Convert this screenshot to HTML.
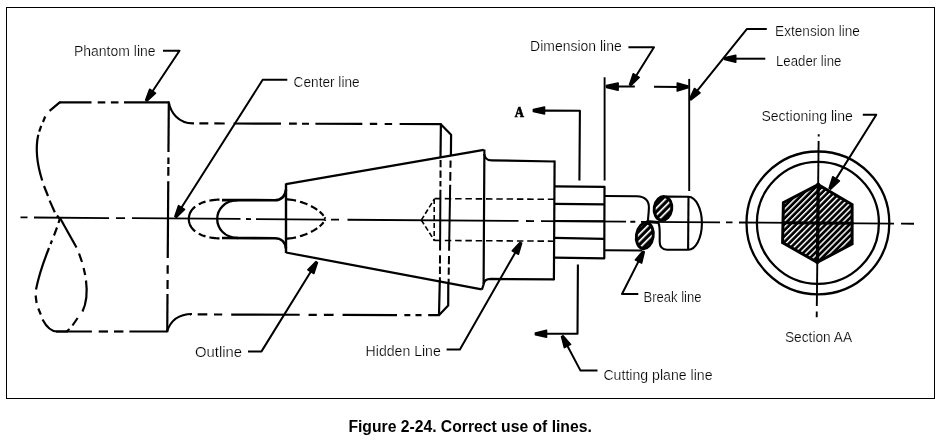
<!DOCTYPE html>
<html><head><meta charset="utf-8"><title>Figure 2-24. Correct use of lines.</title>
<style>
html,body{margin:0;padding:0;background:#fff;}
body{width:940px;height:444px;overflow:hidden;font-family:"Liberation Sans",sans-serif;}
svg{display:block;will-change:transform;}
</style></head><body>
<svg width="940" height="444" viewBox="0 0 940 444">
<defs>
<pattern id="hat" patternUnits="userSpaceOnUse" width="4.2" height="4.2" patternTransform="rotate(-45 817.8 223)">
<rect x="0" y="0" width="4.2" height="4.2" fill="#000"/><rect x="0" y="0" width="4.2" height="1.45" fill="#fff"/></pattern>
<pattern id="hat2" patternUnits="userSpaceOnUse" width="4.9" height="4.9" patternTransform="rotate(-54 644.8 235.7) translate(0 4.550)">
<rect x="0" y="0" width="4.9" height="4.9" fill="#000"/><rect x="0" y="0" width="4.9" height="1.7" fill="#fff"/></pattern>
<pattern id="hat3" patternUnits="userSpaceOnUse" width="4.9" height="4.9" patternTransform="rotate(-54 663 208.4) translate(0 1.750)">
<rect x="0" y="0" width="4.9" height="4.9" fill="#000"/><rect x="0" y="0" width="4.9" height="1.7" fill="#fff"/></pattern>
</defs>
<rect x="6.5" y="7.5" width="928" height="391" fill="none" stroke="#000" stroke-width="1"/>
<line x1="20.5" y1="217.4" x2="27.5" y2="217.45" stroke="#000" stroke-width="1.8" stroke-linecap="butt"/>
<line x1="34" y1="217.5" x2="109" y2="218.03" stroke="#000" stroke-width="1.8" stroke-linecap="butt"/>
<line x1="116" y1="218.08" x2="125" y2="218.15" stroke="#000" stroke-width="1.8" stroke-linecap="butt"/>
<line x1="132" y1="218.2" x2="240.5" y2="218.97" stroke="#000" stroke-width="1.8" stroke-linecap="butt"/>
<line x1="246" y1="219.0" x2="251" y2="219.04" stroke="#000" stroke-width="1.8" stroke-linecap="butt"/>
<line x1="256" y1="219.08" x2="325" y2="219.57" stroke="#000" stroke-width="1.8" stroke-linecap="butt"/>
<line x1="331" y1="219.61" x2="339" y2="219.66" stroke="#000" stroke-width="1.8" stroke-linecap="butt"/>
<line x1="347.5" y1="219.73" x2="518.5" y2="220.94" stroke="#000" stroke-width="1.8" stroke-linecap="butt"/>
<line x1="526" y1="220.99" x2="534" y2="221.05" stroke="#000" stroke-width="1.8" stroke-linecap="butt"/>
<line x1="541" y1="221.1" x2="626" y2="221.7" stroke="#000" stroke-width="1.8" stroke-linecap="butt"/>
<line x1="630.3" y1="221.73" x2="635.3" y2="221.77" stroke="#000" stroke-width="1.8" stroke-linecap="butt"/>
<line x1="641" y1="221.81" x2="720" y2="222.37" stroke="#000" stroke-width="1.8" stroke-linecap="butt"/>
<line x1="726" y1="222.41" x2="732.5" y2="222.46" stroke="#000" stroke-width="1.8" stroke-linecap="butt"/>
<line x1="739" y1="222.5" x2="894" y2="223.61" stroke="#000" stroke-width="1.8" stroke-linecap="butt"/>
<line x1="901" y1="223.66" x2="914" y2="223.75" stroke="#000" stroke-width="1.8" stroke-linecap="butt"/>
<line x1="59.7" y1="102.4" x2="91.5" y2="102.4" stroke="#000" stroke-width="2.2" stroke-linecap="butt"/>
<line x1="97.7" y1="102.4" x2="105.3" y2="102.4" stroke="#000" stroke-width="2.2" stroke-linecap="butt"/>
<line x1="110.9" y1="102.4" x2="118.5" y2="102.4" stroke="#000" stroke-width="2.2" stroke-linecap="butt"/>
<line x1="124" y1="102.4" x2="169" y2="102.4" stroke="#000" stroke-width="2.2" stroke-linecap="butt"/>
<line x1="56" y1="331.5" x2="91.9" y2="331.5" stroke="#000" stroke-width="2.2" stroke-linecap="butt"/>
<line x1="98.7" y1="331.5" x2="108" y2="331.5" stroke="#000" stroke-width="2.2" stroke-linecap="butt"/>
<line x1="114" y1="331.5" x2="123.4" y2="331.5" stroke="#000" stroke-width="2.2" stroke-linecap="butt"/>
<line x1="129.4" y1="331.5" x2="167.3" y2="331.5" stroke="#000" stroke-width="2.2" stroke-linecap="butt"/>
<line x1="168.81" y1="101.5" x2="168.46" y2="152" stroke="#000" stroke-width="2.2" stroke-linecap="butt"/>
<line x1="168.42" y1="157.6" x2="168.38" y2="163.9" stroke="#000" stroke-width="2.2" stroke-linecap="butt"/>
<line x1="168.36" y1="167" x2="168.3" y2="175.7" stroke="#000" stroke-width="2.2" stroke-linecap="butt"/>
<line x1="168.26" y1="181.2" x2="167.74" y2="258" stroke="#000" stroke-width="2.2" stroke-linecap="butt"/>
<line x1="167.69" y1="265.2" x2="167.63" y2="273.8" stroke="#000" stroke-width="2.2" stroke-linecap="butt"/>
<line x1="167.59" y1="280" x2="167.53" y2="289" stroke="#000" stroke-width="2.2" stroke-linecap="butt"/>
<line x1="167.5" y1="294" x2="167.24" y2="332.3" stroke="#000" stroke-width="2.2" stroke-linecap="butt"/>
<path d="M168.8,102.4 C170.5,112 178,123.2 193,123.3 " fill="none" stroke="#000" stroke-width="2.2" stroke-linecap="butt" stroke-linejoin="round"/>
<path d="M167.0,331.6 C170,322 177,314.2 192,314.0" fill="none" stroke="#000" stroke-width="2.2" stroke-linecap="butt" stroke-linejoin="round"/>
<line x1="193" y1="123.4" x2="194" y2="123.4" stroke="#000" stroke-width="2.2" stroke-linecap="butt"/>
<line x1="199.4" y1="123.42" x2="208.3" y2="123.45" stroke="#000" stroke-width="2.2" stroke-linecap="butt"/>
<line x1="214.3" y1="123.46" x2="224.7" y2="123.5" stroke="#000" stroke-width="2.2" stroke-linecap="butt"/>
<line x1="233.6" y1="123.52" x2="281" y2="123.66" stroke="#000" stroke-width="2.2" stroke-linecap="butt"/>
<line x1="289" y1="123.69" x2="296.8" y2="123.71" stroke="#000" stroke-width="2.2" stroke-linecap="butt"/>
<line x1="302" y1="123.73" x2="309" y2="123.75" stroke="#000" stroke-width="2.2" stroke-linecap="butt"/>
<line x1="315.4" y1="123.77" x2="362.3" y2="123.91" stroke="#000" stroke-width="2.2" stroke-linecap="butt"/>
<line x1="369.8" y1="123.93" x2="377.2" y2="123.95" stroke="#000" stroke-width="2.2" stroke-linecap="butt"/>
<line x1="384.7" y1="123.98" x2="392.1" y2="124.0" stroke="#000" stroke-width="2.2" stroke-linecap="butt"/>
<line x1="399.6" y1="124.02" x2="441.3" y2="124.14" stroke="#000" stroke-width="2.2" stroke-linecap="butt"/>
<line x1="190" y1="314.4" x2="191" y2="314.4" stroke="#000" stroke-width="2.2" stroke-linecap="butt"/>
<line x1="197.7" y1="314.43" x2="207.3" y2="314.46" stroke="#000" stroke-width="2.2" stroke-linecap="butt"/>
<line x1="214" y1="314.48" x2="222.2" y2="314.51" stroke="#000" stroke-width="2.2" stroke-linecap="butt"/>
<line x1="231.2" y1="314.54" x2="299.7" y2="314.76" stroke="#000" stroke-width="2.2" stroke-linecap="butt"/>
<line x1="308.6" y1="314.79" x2="316.8" y2="314.82" stroke="#000" stroke-width="2.2" stroke-linecap="butt"/>
<line x1="323.9" y1="314.84" x2="333.6" y2="314.87" stroke="#000" stroke-width="2.2" stroke-linecap="butt"/>
<line x1="342.6" y1="314.9" x2="397" y2="315.08" stroke="#000" stroke-width="2.2" stroke-linecap="butt"/>
<line x1="404.4" y1="315.11" x2="410.3" y2="315.13" stroke="#000" stroke-width="2.2" stroke-linecap="butt"/>
<line x1="415.5" y1="315.14" x2="421.5" y2="315.16" stroke="#000" stroke-width="2.2" stroke-linecap="butt"/>
<line x1="428.2" y1="315.19" x2="439.6" y2="315.22" stroke="#000" stroke-width="2.2" stroke-linecap="butt"/>
<path d="M60.5,102.4 L59.7,102.4 L49.6,110.8" fill="none" stroke="#000" stroke-width="2.2" stroke-linecap="butt" stroke-linejoin="round"/>
<path d="M45.2,116.5 L43,122" fill="none" stroke="#000" stroke-width="2.2" stroke-linecap="butt" stroke-linejoin="round"/>
<path d="M41.2,125.8 L39.2,131.7" fill="none" stroke="#000" stroke-width="2.2" stroke-linecap="butt" stroke-linejoin="round"/>
<path d="M38.3,134.8 C34.8,150 37.3,165 42.2,180.5" fill="none" stroke="#000" stroke-width="2.2" stroke-linecap="butt" stroke-linejoin="round"/>
<path d="M44,186 L48,196" fill="none" stroke="#000" stroke-width="2.2" stroke-linecap="butt" stroke-linejoin="round"/>
<path d="M49.6,200.6 L54.8,212.3" fill="none" stroke="#000" stroke-width="2.2" stroke-linecap="butt" stroke-linejoin="round"/>
<path d="M57,215.5 L59.5,218.5" fill="none" stroke="#000" stroke-width="2.2" stroke-linecap="butt" stroke-linejoin="round"/>
<path d="M60,218 L58.5,223" fill="none" stroke="#000" stroke-width="2.2" stroke-linecap="butt" stroke-linejoin="round"/>
<path d="M57,227.5 L54,235.5" fill="none" stroke="#000" stroke-width="2.2" stroke-linecap="butt" stroke-linejoin="round"/>
<path d="M52,240.5 L50.6,244" fill="none" stroke="#000" stroke-width="2.2" stroke-linecap="butt" stroke-linejoin="round"/>
<path d="M49,248 C43,263 38.5,277 36,289.5" fill="none" stroke="#000" stroke-width="2.2" stroke-linecap="butt" stroke-linejoin="round"/>
<path d="M35.6,295.5 L36.6,303" fill="none" stroke="#000" stroke-width="2.2" stroke-linecap="butt" stroke-linejoin="round"/>
<path d="M38.3,308.5 L40.8,314.5" fill="none" stroke="#000" stroke-width="2.2" stroke-linecap="butt" stroke-linejoin="round"/>
<path d="M42.5,319.5 C46,326 50,331.5 57,331.5 L68,331.5" fill="none" stroke="#000" stroke-width="2.2" stroke-linecap="butt" stroke-linejoin="round"/>
<path d="M60,218 L76.5,247.5" fill="none" stroke="#000" stroke-width="2.2" stroke-linecap="butt" stroke-linejoin="round"/>
<path d="M79,253.5 L82,262" fill="none" stroke="#000" stroke-width="2.2" stroke-linecap="butt" stroke-linejoin="round"/>
<path d="M83.6,268 L85.2,275" fill="none" stroke="#000" stroke-width="2.2" stroke-linecap="butt" stroke-linejoin="round"/>
<path d="M86,280.5 C87.5,292 86.5,303 82.5,311.5" fill="none" stroke="#000" stroke-width="2.2" stroke-linecap="butt" stroke-linejoin="round"/>
<path d="M77.6,318 L72.5,325.5" fill="none" stroke="#000" stroke-width="2.2" stroke-linecap="butt" stroke-linejoin="round"/>
<path d="M69.5,329 L66.5,331.5" fill="none" stroke="#000" stroke-width="2.2" stroke-linecap="butt" stroke-linejoin="round"/>
<path d="M195.20,206.64 L194.06,207.61 L193.03,208.63 L192.09,209.72 L191.26,210.86 L190.55,212.07 L189.95,213.34 L189.47,214.66 L189.12,216.05 L188.89,217.49 L188.80,219.00" fill="none" stroke="#000" stroke-width="2.2" stroke-linecap="butt" stroke-linejoin="round"/>
<path d="M205.50,201.63 L204.77,201.85 L204.06,202.08 L203.36,202.32 L202.66,202.57 L201.99,202.83 L201.32,203.11 L200.67,203.39 L200.03,203.69 L199.41,203.99 L198.80,204.31" fill="none" stroke="#000" stroke-width="2.2" stroke-linecap="butt" stroke-linejoin="round"/>
<path d="M219.50,199.62 L218.44,199.65 L217.39,199.70 L216.35,199.77 L215.33,199.85 L214.31,199.95 L213.30,200.07 L212.31,200.20 L211.32,200.34 L210.36,200.51 L209.40,200.69" fill="none" stroke="#000" stroke-width="2.2" stroke-linecap="butt" stroke-linejoin="round"/>
<path d="M286.30,199.40 L287.20,199.42 L288.12,199.46 L289.06,199.53 L290.02,199.62 L290.98,199.74 L291.97,199.87 L292.96,200.03 L293.97,200.22 L294.98,200.42 L296.00,200.64" fill="none" stroke="#000" stroke-width="2.2" stroke-linecap="butt" stroke-linejoin="round"/>
<path d="M300.00,201.70 L300.75,201.93 L301.50,202.17 L302.24,202.41 L302.99,202.67 L303.73,202.94 L304.47,203.21 L305.21,203.49 L305.95,203.79 L306.68,204.09 L307.40,204.39" fill="none" stroke="#000" stroke-width="2.2" stroke-linecap="butt" stroke-linejoin="round"/>
<path d="M311.00,206.08 L311.66,206.43 L312.32,206.78 L312.96,207.13 L313.60,207.50 L314.23,207.86 L314.85,208.24 L315.45,208.62 L316.05,209.00 L316.63,209.39 L317.20,209.79" fill="none" stroke="#000" stroke-width="2.2" stroke-linecap="butt" stroke-linejoin="round"/>
<path d="M319.60,211.63 L320.07,212.03 L320.52,212.43 L320.96,212.84 L321.39,213.25 L321.80,213.66 L322.19,214.08 L322.57,214.50 L322.93,214.92 L323.27,215.35 L323.60,215.77" fill="none" stroke="#000" stroke-width="2.2" stroke-linecap="butt" stroke-linejoin="round"/>
<path d="M324.60,217.30 L324.68,217.44 L324.76,217.58 L324.83,217.72 L324.90,217.86 L324.98,218.00 L325.04,218.14 L325.11,218.28 L325.18,218.42 L325.24,218.56 L325.30,218.70" fill="none" stroke="#000" stroke-width="2.2" stroke-linecap="butt" stroke-linejoin="round"/>
<path d="M195.20,231.36 L194.06,230.39 L193.03,229.37 L192.09,228.28 L191.26,227.14 L190.55,225.93 L189.95,224.66 L189.47,223.34 L189.12,221.95 L188.89,220.51 L188.80,219.00" fill="none" stroke="#000" stroke-width="2.2" stroke-linecap="butt" stroke-linejoin="round"/>
<path d="M205.50,236.37 L204.77,236.15 L204.06,235.92 L203.36,235.68 L202.66,235.43 L201.99,235.17 L201.32,234.89 L200.67,234.61 L200.03,234.31 L199.41,234.01 L198.80,233.69" fill="none" stroke="#000" stroke-width="2.2" stroke-linecap="butt" stroke-linejoin="round"/>
<path d="M219.50,238.38 L218.44,238.35 L217.39,238.30 L216.35,238.23 L215.33,238.15 L214.31,238.05 L213.30,237.93 L212.31,237.80 L211.32,237.66 L210.36,237.49 L209.40,237.31" fill="none" stroke="#000" stroke-width="2.2" stroke-linecap="butt" stroke-linejoin="round"/>
<path d="M286.30,238.60 L287.20,238.58 L288.12,238.54 L289.06,238.47 L290.02,238.38 L290.98,238.26 L291.97,238.13 L292.96,237.97 L293.97,237.78 L294.98,237.58 L296.00,237.36" fill="none" stroke="#000" stroke-width="2.2" stroke-linecap="butt" stroke-linejoin="round"/>
<path d="M300.00,236.30 L300.75,236.07 L301.50,235.83 L302.24,235.59 L302.99,235.33 L303.73,235.06 L304.47,234.79 L305.21,234.51 L305.95,234.21 L306.68,233.91 L307.40,233.61" fill="none" stroke="#000" stroke-width="2.2" stroke-linecap="butt" stroke-linejoin="round"/>
<path d="M311.00,231.92 L311.66,231.57 L312.32,231.22 L312.96,230.87 L313.60,230.50 L314.23,230.14 L314.85,229.76 L315.45,229.38 L316.05,229.00 L316.63,228.61 L317.20,228.21" fill="none" stroke="#000" stroke-width="2.2" stroke-linecap="butt" stroke-linejoin="round"/>
<path d="M319.60,226.37 L320.07,225.97 L320.52,225.57 L320.96,225.16 L321.39,224.75 L321.80,224.34 L322.19,223.92 L322.57,223.50 L322.93,223.08 L323.27,222.65 L323.60,222.23" fill="none" stroke="#000" stroke-width="2.2" stroke-linecap="butt" stroke-linejoin="round"/>
<path d="M324.60,220.70 L324.68,220.56 L324.76,220.42 L324.83,220.28 L324.90,220.14 L324.98,220.00 L325.04,219.86 L325.11,219.72 L325.18,219.58 L325.24,219.44 L325.30,219.30" fill="none" stroke="#000" stroke-width="2.2" stroke-linecap="butt" stroke-linejoin="round"/>
<path d="M238,200.2 C224,200.5 217.2,210 217.2,219.1 C217.2,228 224,237.8 238,238" fill="none" stroke="#000" stroke-width="2.3" stroke-linecap="butt" stroke-linejoin="round"/>
<path d="M222,200.1 L275,200.2 C281,200.2 285.3,196.5 286,189.5" fill="none" stroke="#000" stroke-width="2.6" stroke-linecap="butt" stroke-linejoin="round"/>
<path d="M222,238 L275,238.2 C281,238.2 285.3,242 286,248.5" fill="none" stroke="#000" stroke-width="2.6" stroke-linecap="butt" stroke-linejoin="round"/>
<line x1="286.0" y1="183.4" x2="286.0" y2="253.0" stroke="#000" stroke-width="2.4" stroke-linecap="butt"/>
<line x1="286.0" y1="184.2" x2="483.8" y2="149.8" stroke="#000" stroke-width="2.2" stroke-linecap="butt"/>
<line x1="286.0" y1="252.5" x2="481.7" y2="289.3" stroke="#000" stroke-width="2.2" stroke-linecap="butt"/>
<path d="M440.8,124.3 L451.1,134.8 L450.9,155.5" fill="none" stroke="#000" stroke-width="2.2" stroke-linecap="butt" stroke-linejoin="round"/>
<line x1="440.9" y1="123.6" x2="440.5" y2="157.5" stroke="#000" stroke-width="2.2" stroke-linecap="butt"/>
<path d="M448.3,282.3 L448.2,305.5 L438.9,315.2" fill="none" stroke="#000" stroke-width="2.2" stroke-linecap="butt" stroke-linejoin="round"/>
<path d="M439.8,280 L439.0,315.5" fill="none" stroke="#000" stroke-width="2.2" stroke-linecap="butt" stroke-linejoin="round"/>
<line x1="440.59" y1="160" x2="440.55" y2="167.3" stroke="#000" stroke-width="2.0" stroke-linecap="butt"/>
<line x1="440.53" y1="170.5" x2="440.49" y2="177.8" stroke="#000" stroke-width="2.0" stroke-linecap="butt"/>
<line x1="440.47" y1="181" x2="440.43" y2="186.5" stroke="#000" stroke-width="2.0" stroke-linecap="butt"/>
<line x1="440.42" y1="189.7" x2="440.06" y2="250.4" stroke="#000" stroke-width="2.0" stroke-linecap="butt"/>
<line x1="440.03" y1="255.3" x2="439.98" y2="263.4" stroke="#000" stroke-width="2.0" stroke-linecap="butt"/>
<line x1="439.96" y1="266.6" x2="439.92" y2="274" stroke="#000" stroke-width="2.0" stroke-linecap="butt"/>
<line x1="439.9" y1="277.2" x2="439.88" y2="281" stroke="#000" stroke-width="2.0" stroke-linecap="butt"/>
<line x1="450.58" y1="160.5" x2="450.46" y2="167.8" stroke="#000" stroke-width="2.0" stroke-linecap="butt"/>
<line x1="450.39" y1="171.9" x2="450.25" y2="180.8" stroke="#000" stroke-width="2.0" stroke-linecap="butt"/>
<line x1="450.18" y1="184.8" x2="449.1" y2="250.8" stroke="#000" stroke-width="2.0" stroke-linecap="butt"/>
<line x1="449.01" y1="256" x2="448.88" y2="264.2" stroke="#000" stroke-width="2.0" stroke-linecap="butt"/>
<line x1="448.82" y1="267.4" x2="448.7" y2="274.7" stroke="#000" stroke-width="2.0" stroke-linecap="butt"/>
<line x1="448.64" y1="278.8" x2="448.57" y2="283" stroke="#000" stroke-width="2.0" stroke-linecap="butt"/>
<line x1="434.5" y1="198.6" x2="554" y2="199.3" stroke="#000" stroke-width="1.6" stroke-linecap="butt" stroke-dasharray="6.5 3.8"/>
<line x1="434.5" y1="240.4" x2="554" y2="241.2" stroke="#000" stroke-width="1.6" stroke-linecap="butt" stroke-dasharray="6.5 3.8"/>
<line x1="434.2" y1="199" x2="434.2" y2="241" stroke="#000" stroke-width="1.6" stroke-linecap="butt" stroke-dasharray="5 3"/>
<line x1="421.3" y1="220.1" x2="434.5" y2="198.8" stroke="#000" stroke-width="1.6" stroke-linecap="butt" stroke-dasharray="5 2.5"/>
<line x1="421.3" y1="220.1" x2="434.5" y2="240.6" stroke="#000" stroke-width="1.6" stroke-linecap="butt" stroke-dasharray="5 2.5"/>
<path d="M484.4,149.5 L483.6,284.5 L481.9,289.6" fill="none" stroke="#000" stroke-width="2.2" stroke-linecap="butt" stroke-linejoin="round"/>
<path d="M484.3,154 C484.6,158 486.5,160.3 491.5,160.4 L554.5,161.5" fill="none" stroke="#000" stroke-width="2.2" stroke-linecap="butt" stroke-linejoin="round"/>
<path d="M483.6,284 C484,281 486,279 491,278.9 L554,279.4" fill="none" stroke="#000" stroke-width="2.2" stroke-linecap="butt" stroke-linejoin="round"/>
<line x1="554.6" y1="160.6" x2="553.9" y2="280.3" stroke="#000" stroke-width="2.2" stroke-linecap="butt"/>
<path d="M554.3,186.4 L604.5,186.8 L604.3,258.3 L554.1,257.7" fill="none" stroke="#000" stroke-width="2.2" stroke-linecap="butt" stroke-linejoin="round"/>
<line x1="554.3" y1="203.9" x2="604.4" y2="204.4" stroke="#000" stroke-width="2.2" stroke-linecap="butt"/>
<line x1="554.3" y1="237.8" x2="604.4" y2="238.8" stroke="#000" stroke-width="2.2" stroke-linecap="butt"/>
<line x1="554.3" y1="220.9" x2="604.4" y2="221.3" stroke="#000" stroke-width="2.0" stroke-linecap="butt"/>
<path d="M604.4,196 L637,196.2 C645,196.4 649.2,201 648.9,208 C648.7,213 648.2,217 647.9,221" fill="none" stroke="#000" stroke-width="2.1" stroke-linecap="butt" stroke-linejoin="round"/>
<line x1="604.4" y1="250.3" x2="642" y2="250.5" stroke="#000" stroke-width="2.1" stroke-linecap="butt"/>
<ellipse cx="644.8" cy="235.7" rx="8.4" ry="13.1" transform="rotate(9 644.8 235.7)" fill="url(#hat2)" stroke="#000" stroke-width="2.9"/>
<ellipse cx="663.0" cy="208.4" rx="8.8" ry="11.9" transform="rotate(9 663 208.4)" fill="url(#hat3)" stroke="#000" stroke-width="2.9"/>
<path d="M646.5,221.6 L659,222.4" fill="none" stroke="#000" stroke-width="3.0" stroke-linecap="butt" stroke-linejoin="round"/>
<path d="M666,196.6 L688.4,196.8 A13.6,26.4 0 0 1 688.1,249.8 L667,249.7 C662,249.5 659.8,247 659.7,242 C659.6,234 660.3,227 658.5,223" fill="none" stroke="#000" stroke-width="2.1" stroke-linecap="butt" stroke-linejoin="round"/>
<line x1="688.5" y1="196.6" x2="688.1" y2="250" stroke="#000" stroke-width="2.1" stroke-linecap="butt"/>
<line x1="604.6" y1="77.3" x2="604.6" y2="180.5" stroke="#000" stroke-width="1.9" stroke-linecap="butt"/>
<line x1="689.2" y1="78.9" x2="689.2" y2="191" stroke="#000" stroke-width="1.9" stroke-linecap="butt"/>
<polygon points="606.45,85.60 618.16,82.89 618.14,90.19 606.45,87.40" fill="#000" stroke="#000" stroke-width="1.5" stroke-linejoin="round"/>
<line x1="634.8" y1="86.6" x2="616.15" y2="86.54" stroke="#000" stroke-width="2.0" stroke-linecap="butt"/>
<polygon points="687.94,87.89 677.23,90.98 677.27,82.88 687.96,86.09" fill="#000" stroke="#000" stroke-width="1.5" stroke-linejoin="round"/>
<line x1="654" y1="86.8" x2="679.25" y2="86.94" stroke="#000" stroke-width="2.0" stroke-linecap="butt"/>
<path d="M545,110.6 L579.9,110.8 L579.4,180.5" fill="none" stroke="#000" stroke-width="2.1" stroke-linecap="butt" stroke-linejoin="round"/>
<polygon points="533.35,109.60 544.56,107.09 544.54,113.99 533.35,111.40" fill="#000" stroke="#000" stroke-width="1.5" stroke-linejoin="round"/>
<path d="M577.9,264.5 L577.5,333.8 L546,333.8" fill="none" stroke="#000" stroke-width="2.1" stroke-linecap="butt" stroke-linejoin="round"/>
<polygon points="535.35,332.90 546.55,330.35 546.55,337.25 535.35,334.70" fill="#000" stroke="#000" stroke-width="1.5" stroke-linejoin="round"/>
<text x="514.8" y="116.6" font-family="&quot;Liberation Serif&quot;, serif" font-size="14.5" font-weight="bold" fill="#000" stroke="#000" stroke-width="0.7" textLength="9.2" lengthAdjust="spacingAndGlyphs">A</text>
<circle cx="817.9" cy="222.9" r="71.4" fill="none" stroke="#000" stroke-width="2.3"/>
<circle cx="817.9" cy="222.9" r="61.0" fill="none" stroke="#000" stroke-width="2.3"/>
<polygon points="818.00,184.60 852.10,204.50 852.10,243.90 817.20,262.40 782.60,242.60 783.40,202.60" fill="url(#hat)" stroke="#000" stroke-width="3" stroke-linejoin="miter"/>
<line x1="782" y1="222.7" x2="853.5" y2="223.3" stroke="#000" stroke-width="3.0" stroke-linecap="butt"/>
<line x1="818.2" y1="183" x2="817.5" y2="263.5" stroke="#000" stroke-width="3.3" stroke-linecap="butt"/>
<line x1="818.7" y1="134.3" x2="818.67" y2="136.6" stroke="#000" stroke-width="1.9" stroke-linecap="butt"/>
<line x1="818.62" y1="141" x2="816.82" y2="306" stroke="#000" stroke-width="1.9" stroke-linecap="butt"/>
<line x1="816.76" y1="311.4" x2="816.7" y2="317.2" stroke="#000" stroke-width="1.9" stroke-linecap="butt"/>
<path d="M163,50.8 L179.5,50.8 L151.90,92.24" fill="none" stroke="#000" stroke-width="2.0" stroke-linecap="butt" stroke-linejoin="round"/>
<polygon points="145.63,100.03 149.64,89.24 155.55,93.17 147.13,101.02" fill="#000" stroke="#000" stroke-width="1.5" stroke-linejoin="round"/>
<path d="M287.3,79.8 L262.7,79.8 L180.90,208.52" fill="none" stroke="#000" stroke-width="2.0" stroke-linecap="butt" stroke-linejoin="round"/>
<polygon points="174.80,216.43 178.57,205.56 184.57,209.37 176.32,217.40" fill="#000" stroke="#000" stroke-width="1.5" stroke-linejoin="round"/>
<path d="M248,351.4 L261.5,351.4 L311.51,270.55" fill="none" stroke="#000" stroke-width="2.0" stroke-linecap="butt" stroke-linejoin="round"/>
<polygon points="317.51,262.57 313.87,273.49 307.84,269.75 315.98,261.62" fill="#000" stroke="#000" stroke-width="1.5" stroke-linejoin="round"/>
<path d="M446.6,349.5 L459.9,349.5 L515.94,251.45" fill="none" stroke="#000" stroke-width="2.0" stroke-linecap="butt" stroke-linejoin="round"/>
<polygon points="521.66,243.26 518.40,254.30 512.24,250.77 520.10,242.36" fill="#000" stroke="#000" stroke-width="1.5" stroke-linejoin="round"/>
<path d="M628.4,47.2 L654,47.2 L635.54,76.68" fill="none" stroke="#000" stroke-width="2.0" stroke-linecap="butt" stroke-linejoin="round"/>
<polygon points="629.49,84.63 633.19,73.73 639.21,77.50 631.02,85.59" fill="#000" stroke="#000" stroke-width="1.5" stroke-linejoin="round"/>
<path d="M766.8,28.9 L747,28.9 L696.50,91.63" fill="none" stroke="#000" stroke-width="2.0" stroke-linecap="butt" stroke-linejoin="round"/>
<polygon points="689.56,98.82 694.52,88.43 700.05,92.88 690.96,99.95" fill="#000" stroke="#000" stroke-width="1.5" stroke-linejoin="round"/>
<path d="M765.3,58.7 L734.50,58.70" fill="none" stroke="#000" stroke-width="2.0" stroke-linecap="butt" stroke-linejoin="round"/>
<polygon points="724.55,57.80 735.75,55.15 735.75,62.25 724.55,59.60" fill="#000" stroke="#000" stroke-width="1.5" stroke-linejoin="round"/>
<path d="M862.8,114.8 L876.3,114.8 L835.42,179.86" fill="none" stroke="#000" stroke-width="2.0" stroke-linecap="butt" stroke-linejoin="round"/>
<polygon points="829.10,188.23 832.74,176.70 839.43,180.91 830.62,189.19" fill="#000" stroke="#000" stroke-width="1.5" stroke-linejoin="round"/>
<path d="M638.3,294 L622,294 L639.03,260.41" fill="none" stroke="#000" stroke-width="2.0" stroke-linecap="butt" stroke-linejoin="round"/>
<polygon points="644.33,251.94 641.63,263.13 635.29,259.92 642.72,251.13" fill="#000" stroke="#000" stroke-width="1.5" stroke-linejoin="round"/>
<path d="M597.5,370.6 L580.5,370.6 L566.94,344.93" fill="none" stroke="#000" stroke-width="2.0" stroke-linecap="butt" stroke-linejoin="round"/>
<polygon points="563.09,335.71 570.66,344.37 564.38,347.69 561.49,336.55" fill="#000" stroke="#000" stroke-width="1.5" stroke-linejoin="round"/>
<text x="73.9" y="55.6" font-family="&quot;Liberation Sans&quot;, sans-serif" font-size="14.4" font-weight="normal" fill="#000" stroke="#fff" stroke-width="0.22" text-anchor="start" textLength="81.7" lengthAdjust="spacingAndGlyphs">Phantom line</text>
<text x="293.6" y="87.2" font-family="&quot;Liberation Sans&quot;, sans-serif" font-size="14.4" font-weight="normal" fill="#000" stroke="#fff" stroke-width="0.22" text-anchor="start" textLength="66.0" lengthAdjust="spacingAndGlyphs">Center line</text>
<text x="195" y="357.4" font-family="&quot;Liberation Sans&quot;, sans-serif" font-size="14.4" font-weight="normal" fill="#000" stroke="#fff" stroke-width="0.22" text-anchor="start" textLength="47" lengthAdjust="spacingAndGlyphs">Outline</text>
<text x="365.6" y="355.6" font-family="&quot;Liberation Sans&quot;, sans-serif" font-size="14.4" font-weight="normal" fill="#000" stroke="#fff" stroke-width="0.22" text-anchor="start" textLength="75.2" lengthAdjust="spacingAndGlyphs">Hidden Line</text>
<text x="530.1" y="51.2" font-family="&quot;Liberation Sans&quot;, sans-serif" font-size="14.4" font-weight="normal" fill="#000" stroke="#fff" stroke-width="0.22" text-anchor="start" textLength="91.6" lengthAdjust="spacingAndGlyphs">Dimension line</text>
<text x="775.1" y="35.7" font-family="&quot;Liberation Sans&quot;, sans-serif" font-size="14.4" font-weight="normal" fill="#000" stroke="#fff" stroke-width="0.22" text-anchor="start" textLength="84.8" lengthAdjust="spacingAndGlyphs">Extension line</text>
<text x="776.0" y="66.0" font-family="&quot;Liberation Sans&quot;, sans-serif" font-size="14.4" font-weight="normal" fill="#000" stroke="#fff" stroke-width="0.22" text-anchor="start" textLength="65.4" lengthAdjust="spacingAndGlyphs">Leader line</text>
<text x="761.4" y="120.5" font-family="&quot;Liberation Sans&quot;, sans-serif" font-size="14.4" font-weight="normal" fill="#000" stroke="#fff" stroke-width="0.22" text-anchor="start" textLength="91.4" lengthAdjust="spacingAndGlyphs">Sectioning line</text>
<text x="643.6" y="302.1" font-family="&quot;Liberation Sans&quot;, sans-serif" font-size="14.4" font-weight="normal" fill="#000" stroke="#fff" stroke-width="0.22" text-anchor="start" textLength="57.8" lengthAdjust="spacingAndGlyphs">Break line</text>
<text x="603.4" y="380" font-family="&quot;Liberation Sans&quot;, sans-serif" font-size="14.4" font-weight="normal" fill="#000" stroke="#fff" stroke-width="0.22" text-anchor="start" textLength="109.2" lengthAdjust="spacingAndGlyphs">Cutting plane line</text>
<text x="784.9" y="341.6" font-family="&quot;Liberation Sans&quot;, sans-serif" font-size="14.4" font-weight="normal" fill="#000" stroke="#fff" stroke-width="0.22" text-anchor="start" textLength="67.2" lengthAdjust="spacingAndGlyphs">Section AA</text>
<text x="348.4" y="432.2" font-family="&quot;Liberation Sans&quot;, sans-serif" font-size="15.6" font-weight="bold" fill="#000" stroke="#fff" stroke-width="0.0" text-anchor="start" textLength="243.4" lengthAdjust="spacingAndGlyphs">Figure 2-24. Correct use of lines.</text>
</svg>
</body></html>
